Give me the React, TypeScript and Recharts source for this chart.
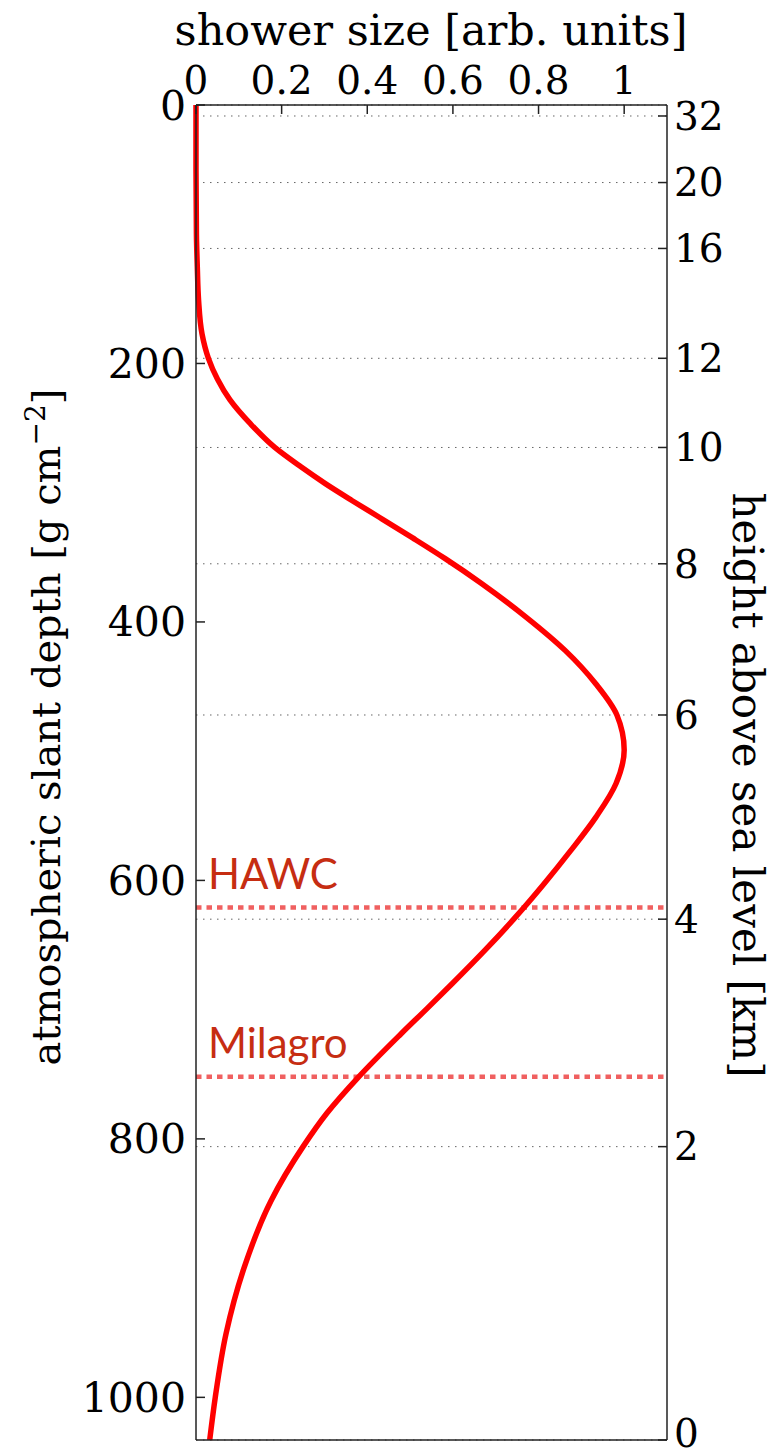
import React from 'react';
import {
  LineChart,
  Line,
  XAxis,
  YAxis,
  CartesianGrid,
  ReferenceLine,
} from 'recharts';

// slant depth [g cm^-2] and relative shower size
const depth = [
  0, 50, 100, 125, 151, 177, 196, 212, 228, 247, 265, 280, 293, 306, 319, 335, 351,
  370, 396, 422, 448, 472, 499, 525, 551, 577, 603, 621, 630, 654, 680, 699, 719,
  752, 780, 806, 848, 900, 951, 1000, 1033,
];
const showerSize = [
  0, 0, 0.001, 0.003, 0.006, 0.014, 0.029, 0.05, 0.079, 0.128, 0.184, 0.245, 0.302,
  0.364, 0.428, 0.506, 0.582, 0.666, 0.77, 0.862, 0.934, 0.983, 1.0, 0.981, 0.934,
  0.875, 0.812, 0.766, 0.742, 0.675, 0.598, 0.54, 0.478, 0.38, 0.306, 0.25, 0.175,
  0.112, 0.07, 0.045, 0.032,
];

const sizeTicks = [0, 0.2, 0.4, 0.6, 0.8, 1];
const depthTicks = [0, 200, 400, 600, 800, 1000];

// right axis: height above sea level [km] placed at its depth
const heightKm = [32, 20, 16, 12, 10, 8, 6, 4, 2, 0];
const heightDepth = [8.5, 60, 111, 196, 265, 355, 472, 630, 806, 1033];

const sites = ['HAWC', 'Milagro'];
const siteDepth = [621, 752];

const data = depth.map((d, i) => ({ depth: d, size: showerSize[i] }));

const SERIF = '"DejaVu Serif", serif';
const tickStyle = { fontFamily: SERIF, fontSize: 39, fill: '#000' };
const leftTickStyle = { fontFamily: SERIF, fontSize: 41, fill: '#000' };
const axisLine = { stroke: '#222', strokeWidth: 1.5 };

const kmLabel = (v: number) => {
  const i = heightDepth.indexOf(v);
  return i >= 0 ? String(heightKm[i]) : '';
};

const LeftTitle = () => (
  <text
    transform="translate(60, 727) rotate(-90)"
    textAnchor="middle"
    fontFamily={SERIF}
    fontSize={40}
    fill="#000"
  >
    atmospheric slant depth [g cm
    <tspan dy={-15} fontSize={28}>−2</tspan>
    <tspan dy={15}>]</tspan>
  </text>
);

const RightTitle = () => (
  <text
    transform="translate(733, 785) rotate(90)"
    textAnchor="middle"
    fontFamily={SERIF}
    fontSize={42}
    fill="#000"
  >
    height above sea level [km]
  </text>
);

const TopTitle = () => (
  <text x={431} y={45} textAnchor="middle" fontFamily={SERIF} fontSize={43} fill="#000">
    shower size [arb. units]
  </text>
);

const siteLabel = (name: string) => (props: any) => {
  const vb = props.viewBox || {};
  return (
    <text
      x={vb.x + 12}
      y={vb.y - 19}
      fontFamily="Lato, sans-serif"
      fontSize={42}
      fill="#c62d12"
    >
      {name}
    </text>
  );
};

export default function App() {
  return (
    <div style={{ position: 'absolute', left: 0, top: 0, background: '#fff' }}>
      <LineChart
        width={775}
        height={1456}
        data={data}
        layout="vertical"
        margin={{ top: 65, right: 48, bottom: 15, left: 96 }}
      >
        <CartesianGrid
          xAxisId="top"
          yAxisId="km"
          vertical={false}
          stroke="#666"
          strokeDasharray="1.5 5.5"
        />
        <XAxis
          xAxisId="top"
          orientation="top"
          type="number"
          dataKey="size"
          domain={[0, 1.1]}
          ticks={sizeTicks}
          height={40}
          tickSize={-9}
          tickMargin={20}
          tick={tickStyle}
          axisLine={axisLine}
          tickLine={axisLine}
          label={<TopTitle />}
        />
        <XAxis
          xAxisId="bottom"
          orientation="bottom"
          type="number"
          dataKey="size"
          domain={[0, 1.1]}
          ticks={sizeTicks}
          height={1}
          tickSize={-9}
          tick={false}
          axisLine={axisLine}
          tickLine={axisLine}
        />
        <YAxis
          yAxisId="depth"
          orientation="left"
          type="number"
          dataKey="depth"
          domain={[0, 1033]}
          ticks={depthTicks}
          width={100}
          tickSize={-9}
          tickMargin={19}
          tick={leftTickStyle}
          axisLine={axisLine}
          tickLine={axisLine}
          label={<LeftTitle />}
        />
        <YAxis
          yAxisId="km"
          orientation="right"
          type="number"
          dataKey="depth"
          domain={[0, 1033]}
          ticks={heightDepth}
          tickFormatter={kmLabel}
          width={60}
          tickSize={-9}
          tickMargin={16}
          tick={tickStyle}
          axisLine={axisLine}
          tickLine={axisLine}
          label={<RightTitle />}
        />
        {sites.map((s, i) => (
          <ReferenceLine
            key={s}
            xAxisId="top"
            yAxisId="depth"
            y={siteDepth[i]}
            stroke="#f06060"
            strokeWidth={4.5}
            strokeDasharray="5.5 5"
            label={siteLabel(s)}
          />
        ))}
        <Line
          xAxisId="top"
          yAxisId="depth"
          dataKey="size"
          type="monotone"
          stroke="#ff0000"
          strokeWidth={5.5}
          dot={false}
          isAnimationActive={false}
        />
      </LineChart>
    </div>
  );
}
